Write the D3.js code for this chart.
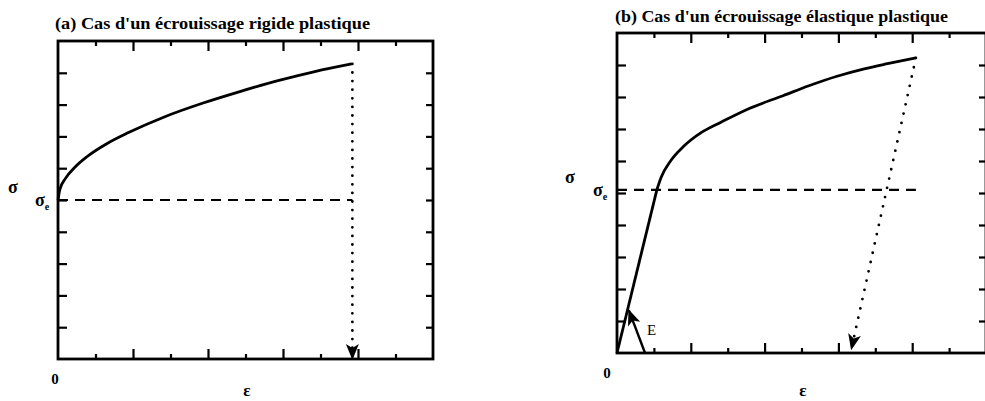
<!DOCTYPE html>
<html>
<head>
<meta charset="utf-8">
<script src="https://cdn.jsdelivr.net/npm/d3@7"></script>
<style>
  body { margin: 0; background: #fff; }
  svg { display: block; }
  text { font-family: "Liberation Serif", "Times New Roman", serif; fill: #000; }
</style>
</head>
<body>
<div id="chart"></div>
<script>
// Data (axes are in arbitrary units 0..10)
const titleA = "(a) Cas d'un écrouissage rigide plastique";
const titleB = "(b) Cas d'un écrouissage élastique plastique";
const xMajorTicks = [2, 4, 6, 8];
const xMinorTicks = [1, 3, 5, 7, 9];
const yTicks = [1, 2, 3, 4, 5, 6, 7, 8, 9];

// (a) rigid plastic
const yieldA = 5;
const curveA = [[0, 5], [0.05, 5.33], [0.2, 5.68], [0.45, 6.03], [0.77, 6.36], [1.3, 6.77], [1.88, 7.12],
                [2.85, 7.62], [3.87, 8.05], [4.85, 8.41], [5.92, 8.77], [6.85, 9.04], [7.83, 9.28]];
const dashEndA = 7.85;
const unloadA = [[7.85, 9.28], [7.85, 0]];

// (b) elastic plastic
const yieldB = 5.1;
const elasticB = [[0, 0], [1.08, 5.1]];
const curveB = [[1.08, 5.1], [1.2, 5.5], [1.45, 6.0], [1.8, 6.45], [2.3, 6.9], [2.83, 7.22],
                [3.6, 7.65], [4.5, 8.04], [5.2, 8.35], [5.94, 8.64], [6.7, 8.88], [7.33, 9.04], [8.1, 9.22]];
const dashEndB = 8.1;
const unloadB = [[8.1, 9.22], [6.35, 0.12]];
const arrowE = [[0.76, 0], [0.32, 1.34]];

const svg = d3.select("#chart").append("svg")
    .attr("width", 985)
    .attr("height", 401);

// arrow head marker
const defs = svg.append("defs");
defs.append("marker")
    .attr("id", "head")
    .attr("viewBox", "-16 -8 18 16")
    .attr("refX", 0).attr("refY", 0)
    .attr("markerWidth", 18).attr("markerHeight", 16)
    .attr("markerUnits", "userSpaceOnUse")
    .attr("orient", "auto")
  .append("path")
    .attr("d", "M1,0 L-15,-6.5 L-11,0 L-15,6.5 Z")
    .attr("fill", "#000");

// draws one panel: frame, inward ticks, returns scales
function setupPanel(box) {
  const x = d3.scaleLinear().domain([0, 10]).range([box.left, box.right]);
  const y = d3.scaleLinear().domain([0, 10]).range([box.bottom, box.top]);
  const g = svg.append("g");

  g.append("rect")
      .attr("x", box.left).attr("y", box.top)
      .attr("width", box.right - box.left)
      .attr("height", box.bottom - box.top)
      .attr("fill", "none")
      .attr("stroke", "#000")
      .attr("stroke-width", 2.8);

  const tickAxes = [
    [d3.axisBottom(x).tickValues(xMajorTicks).tickSize(-10), `translate(0,${box.bottom})`],
    [d3.axisBottom(x).tickValues(xMinorTicks).tickSize(-5), `translate(0,${box.bottom})`],
    [d3.axisTop(x).tickValues(xMajorTicks).tickSize(-10), `translate(0,${box.top})`],
    [d3.axisTop(x).tickValues(xMinorTicks).tickSize(-5), `translate(0,${box.top})`],
    [d3.axisLeft(y).tickValues(yTicks).tickSize(-9), `translate(${box.left},0)`],
    [d3.axisRight(y).tickValues(yTicks).tickSize(-7), `translate(${box.right},0)`]
  ];
  tickAxes.forEach(([axis, tr]) => {
    const a = g.append("g")
        .attr("transform", tr)
        .call(axis.tickFormat("").tickSizeOuter(0));
    a.select(".domain").remove();
    a.selectAll(".tick line").attr("stroke", "#000").attr("stroke-width", 2.2);
  });
  return { x, y, g };
}

function lineOf(sc, curve) {
  return d3.line().x(d => sc.x(d[0])).y(d => sc.y(d[1])).curve(curve || d3.curveLinear);
}

// ---- panel (a)
const A = setupPanel({ left: 58, right: 433, top: 41, bottom: 359 });

A.g.append("line")
    .attr("x1", A.x(0)).attr("x2", A.x(dashEndA))
    .attr("y1", A.y(yieldA)).attr("y2", A.y(yieldA))
    .attr("stroke", "#000").attr("stroke-width", 2.2)
    .attr("stroke-dasharray", "10,7");

A.g.append("path")
    .datum(curveA)
    .attr("d", lineOf(A, d3.curveMonotoneX))
    .attr("fill", "none").attr("stroke", "#000").attr("stroke-width", 2.8);

A.g.append("path")
    .datum(unloadA)
    .attr("d", lineOf(A))
    .attr("fill", "none").attr("stroke", "#000").attr("stroke-width", 2.8)
    .attr("stroke-linecap", "round")
    .attr("stroke-dasharray", "0,8.6")
    .attr("marker-end", "url(#head)");

svg.append("text")
    .attr("x", 55).attr("y", 29)
    .attr("textLength", 315).attr("lengthAdjust", "spacingAndGlyphs")
    .style("font-size", "16px").style("font-weight", "bold")
    .text(titleA);

// ---- panel (b)
const B = setupPanel({ left: 617, right: 986, top: 33, bottom: 353 });

B.g.append("line")
    .attr("x1", B.x(0)).attr("x2", B.x(dashEndB))
    .attr("y1", B.y(yieldB)).attr("y2", B.y(yieldB))
    .attr("stroke", "#000").attr("stroke-width", 2.2)
    .attr("stroke-dasharray", "10,7");

B.g.append("path")
    .datum(elasticB)
    .attr("d", lineOf(B))
    .attr("fill", "none").attr("stroke", "#000").attr("stroke-width", 2.8);

B.g.append("path")
    .datum(curveB)
    .attr("d", lineOf(B, d3.curveMonotoneX))
    .attr("fill", "none").attr("stroke", "#000").attr("stroke-width", 2.8);

B.g.append("path")
    .datum(unloadB)
    .attr("d", lineOf(B))
    .attr("fill", "none").attr("stroke", "#000").attr("stroke-width", 2.8)
    .attr("stroke-linecap", "round")
    .attr("stroke-dasharray", "0,9.5")
    .attr("marker-end", "url(#head)");

B.g.append("path")
    .datum(arrowE)
    .attr("d", lineOf(B))
    .attr("fill", "none").attr("stroke", "#000").attr("stroke-width", 2.4)
    .attr("marker-end", "url(#head)");

svg.append("text")
    .attr("x", 615).attr("y", 22)
    .attr("textLength", 333).attr("lengthAdjust", "spacingAndGlyphs")
    .style("font-size", "16px").style("font-weight", "bold")
    .text(titleB);

// ---- axis symbols
function label(x, y, txt, size, bold, anchor) {
  return svg.append("text")
      .attr("x", x).attr("y", y)
      .attr("text-anchor", anchor || "middle")
      .style("font-size", size + "px")
      .style("font-weight", bold ? "bold" : "normal")
      .text(txt);
}

function sigmaE(x, y) {
  const t = svg.append("text")
      .attr("x", x).attr("y", y)
      .style("font-size", "18px").style("font-weight", "bold");
  t.append("tspan").text("σ");
  t.append("tspan").attr("dy", 4).style("font-size", "10px").text("e");
}

label(13, 193, "σ", 18, true);
sigmaE(35, A.y(yieldA) + 6);
label(55, 384, "0", 15, true);
label(247, 396, "ε", 17, true);

label(570, 183, "σ", 18, true);
sigmaE(593, B.y(yieldB) + 6);
label(607, 378, "0", 15, true);
label(803, 396, "ε", 17, true);
label(647, 335, "E", 15, false, "start");
</script>
</body>
</html>
